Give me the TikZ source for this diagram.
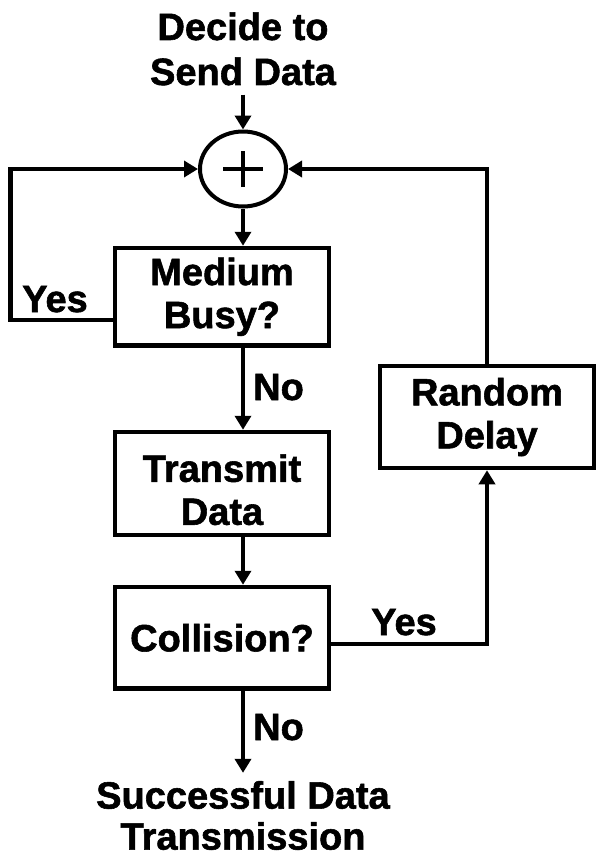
\documentclass[tikz,border=0pt]{standalone}
\usepackage{fontspec}
\setmainfont{Liberation Sans}[BoldFeatures={FakeBold=1.5}]
\usetikzlibrary{arrows.meta,shapes.geometric}
\begin{document}
\begin{tikzpicture}[x=1pt,y=-1pt,
  txt/.style={font=\bfseries\fontsize{38}{43}\selectfont, align=center, inner sep=0pt},
  box/.style={txt, draw, line width=4.5pt, minimum width=214pt},
  arr/.style={line width=4.3pt, -{Triangle[width=16pt,length=14pt]}}]
\path[use as bounding box, fill=white] (0,0) rectangle (596,857);

\node[txt, inner ysep=9pt, font=\bfseries\fontsize{38}{45}\selectfont] (decide) at (243,48.9) {Decide to\\Send Data};
\node[draw, ellipse, line width=4pt, minimum width=86pt, minimum height=75pt, inner sep=0pt,
  path picture={
    \draw[line width=4pt] ([xshift=-20pt]path picture bounding box.center) -- ([xshift=20pt]path picture bounding box.center);
    \draw[line width=4pt] ([yshift=-18pt]path picture bounding box.center) -- ([yshift=18pt]path picture bounding box.center);
  }] (sum) at (243,169) {};

\node[box, minimum height=97.5pt] (mb) at (222,296.75) {Medium\\Busy?};
\node[box, minimum height=103pt] (tx) at (222,483.5) {\rule{0pt}{40pt}Transmit\\Data};
\node[box, minimum height=101.5pt] (col) at (222,637.75) {Collision?};
\node[box, minimum height=102pt] (rd) at (487,417) {Random\\Delay};
\node[txt, font=\bfseries\fontsize{38}{41}\selectfont] (succ) at (243,815.5) {Successful Data\\Transmission};

\node[txt, anchor=base] (yes1) at (55,312) {Yes};
\node[txt, anchor=base west] (no1) at (253,400) {No};
\node[txt, anchor=base] (yes2) at (404,635) {Yes};
\node[txt, anchor=base west] (no2) at (253,740) {No};

\coordinate (sp) at (243,0);
\coordinate (yl) at (10.5,320);
\coordinate (yc) at (0,644);

\draw[arr] (decide.south) -- (sum.north);
\draw[arr] (sum.south) -- (sp |- mb.north);
\draw[arr] (sp |- mb.south) -- (sp |- tx.north);
\draw[arr] (sp |- tx.south) -- (sp |- col.north);
\draw[arr, shorten >=8pt] (sp |- col.south) -- (succ.north);
\draw[arr] (mb.west |- yl) -- (yl) |- (sum.west);
\draw[arr] (rd.north) |- (sum.east);
\draw[arr] (col.east |- yc) -| (rd.south);
\end{tikzpicture}
\end{document}
